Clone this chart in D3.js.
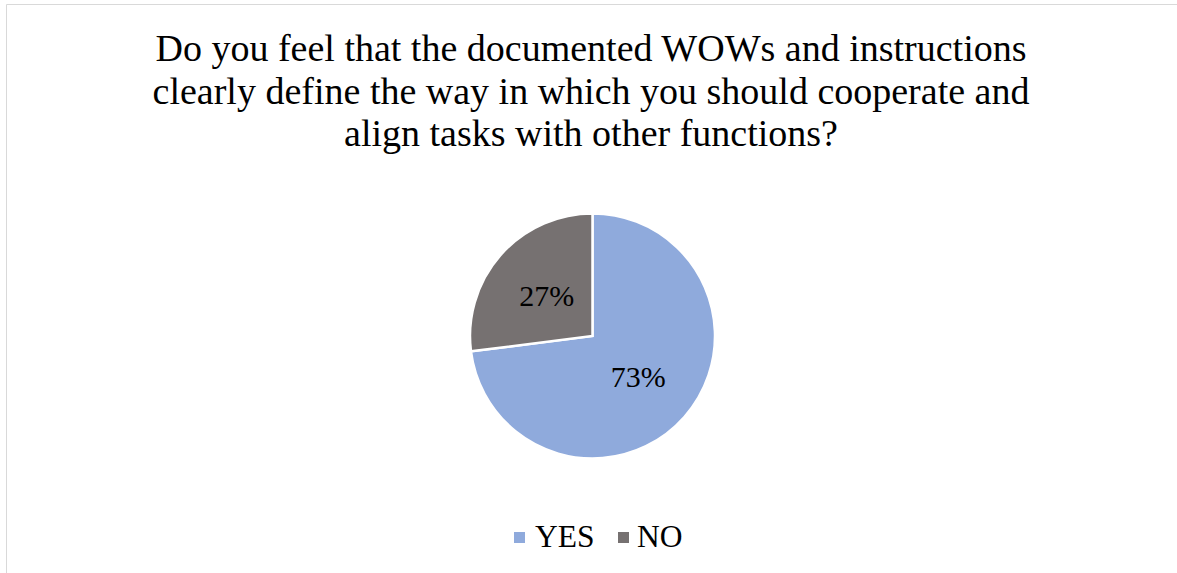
<!DOCTYPE html>
<html>
<head>
<meta charset="utf-8">
<script src="https://cdn.jsdelivr.net/npm/d3@7"></script>
<style>
  html, body { margin: 0; padding: 0; background: #fff; }
  svg { display: block; }
</style>
</head>
<body>
<svg id="chart" width="1177" height="573"></svg>
<script>
const titleLines = [
  "Do you feel that the documented WOWs and instructions",
  "clearly define the way in which you should cooperate and",
  "align tasks with other functions?"
];
const categories = ["YES", "NO"];
const values = [73, 27];
const colors = ["#8FAADC", "#767171"];

const W = 1177, H = 573;
const svg = d3.select("#chart");
const font = "'Liberation Serif', 'Times New Roman', serif";

// chart area frame
svg.append("line").attr("x1", 6.5).attr("y1", 4.5).attr("x2", W).attr("y2", 4.5)
  .attr("stroke", "#d9d9d9").attr("stroke-width", 1);
svg.append("line").attr("x1", 6.5).attr("y1", 4.5).attr("x2", 6.5).attr("y2", H)
  .attr("stroke", "#d9d9d9").attr("stroke-width", 1);

// title
svg.append("text")
  .attr("x", 591).attr("y", 61)
  .attr("text-anchor", "middle")
  .attr("font-family", font).attr("font-size", 38).attr("fill", "#000")
  .selectAll("tspan").data(titleLines).join("tspan")
  .attr("x", 591).attr("dy", (d, i) => i === 0 ? 0 : 42.5)
  .text(d => d);

// pie
const cx = 592.5, cy = 336, r = 122.5;
const data = categories.map((c, i) => ({ cat: c, value: values[i], color: colors[i] }));
const pie = d3.pie().value(d => d.value).sort(null);
const arcs = pie(data);
const arc = d3.arc().innerRadius(0).outerRadius(r);
const labelArc = d3.arc().innerRadius(61).outerRadius(61);

const g = svg.append("g").attr("transform", `translate(${cx},${cy})`);
g.selectAll("path").data(arcs).join("path")
  .attr("d", arc)
  .attr("fill", d => d.data.color)
  .attr("stroke", "#fff").attr("stroke-width", 2.5).attr("stroke-linejoin", "miter");

g.selectAll("text.lbl").data(arcs).join("text")
  .attr("class", "lbl")
  .attr("transform", d => `translate(${labelArc.centroid(d)})`)
  .attr("text-anchor", "middle").attr("dy", "0.35em")
  .attr("font-family", font).attr("font-size", 30).attr("fill", "#000")
  .text(d => d.data.value + "%");

// legend
const legendItems = [
  { x: 514, tx: 535 },
  { x: 618, tx: 637 }
];
const lg = svg.append("g");
data.forEach((d, i) => {
  lg.append("rect").attr("x", legendItems[i].x).attr("y", 532)
    .attr("width", 11).attr("height", 11).attr("fill", d.color);
  lg.append("text").attr("x", legendItems[i].tx).attr("y", 547)
    .attr("font-family", font).attr("font-size", 31.5).attr("fill", "#000")
    .text(d.cat);
});
</script>
</body>
</html>
